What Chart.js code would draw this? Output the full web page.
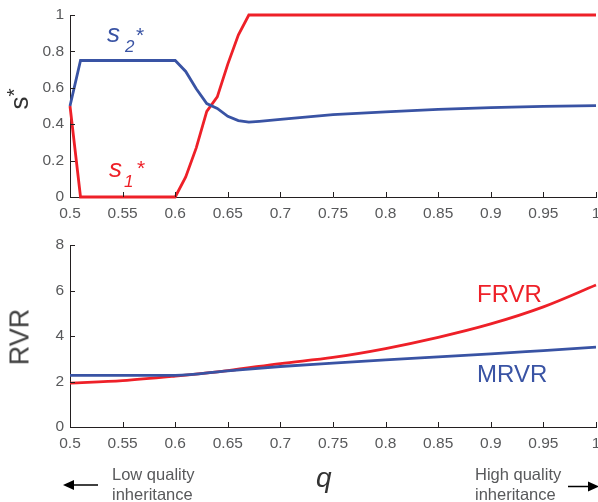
<!DOCTYPE html>
<html><head><meta charset="utf-8">
<script src="https://cdn.jsdelivr.net/npm/chart.js@4/dist/chart.umd.min.js"></script>
<style>
html,body{margin:0;padding:0;background:#fff;}
#wrap{position:relative;width:598px;height:502px;overflow:hidden;font-family:"Liberation Sans",Arial,sans-serif;}
canvas{position:absolute;left:0;}
.t{position:absolute;white-space:nowrap;line-height:1;}
.it{font-style:italic;}
</style></head><body>
<div id="wrap">
<canvas id="cTop" style="top:0" width="598" height="230"></canvas>
<canvas id="cBot" style="top:230px" width="598" height="272"></canvas>

<div class="t" style="left:19px;top:99px;font-size:26px;color:#333;transform:translate(-50%,-50%) rotate(-90deg);">s<span style="font-size:21px;position:relative;top:-7px;">*</span></div>

<div class="t it" style="left:107px;top:20px;font-size:26px;color:#3953a4;">s</div>
<div class="t it" style="left:125px;top:37.6px;font-size:17px;color:#3953a4;">2</div>
<div class="t" style="left:136px;top:23.5px;font-size:21px;color:#3953a4;">*</div>

<div class="t it" style="left:109px;top:155px;font-size:26px;color:#ee2028;">s</div>
<div class="t it" style="left:124px;top:172.6px;font-size:17px;color:#ee2028;">1</div>
<div class="t" style="left:137px;top:156.5px;font-size:21px;color:#ee2028;">*</div>

<div class="t" style="left:20px;top:337px;font-size:27px;color:#404040;transform:translate(-50%,-50%) rotate(-90deg);">RVR</div>

<div class="t" style="left:477px;top:281.7px;font-size:24px;color:#ee2028;">FRVR</div>
<div class="t" style="left:477px;top:361.7px;font-size:24px;color:#3953a4;">MRVR</div>

<div class="t it" style="left:316px;top:463.8px;font-size:28px;color:#333;">q</div>

<div class="t" style="left:112px;top:466px;font-size:16.5px;color:#58595b;">Low quality</div>
<div class="t" style="left:112px;top:485.5px;font-size:16.5px;color:#58595b;">inheritance</div>
<div class="t" style="left:475px;top:466px;font-size:16.5px;color:#58595b;">High quality</div>
<div class="t" style="left:475px;top:485.5px;font-size:16.5px;color:#58595b;">inheritance</div>
</div>
<script>
// ---- data ----
const qTop = [0.5, 0.51, 0.6, 0.61, 0.62, 0.63, 0.64, 0.65, 0.66, 0.67, 0.68, 0.7, 0.75, 0.8, 0.85, 0.9, 0.95, 1.0];
const s1Star = [0.5, 0, 0, 0.11, 0.27, 0.47, 0.55, 0.73, 0.89, 1, 1, 1, 1, 1, 1, 1, 1, 1];
const s2Star = [0.5, 0.75, 0.75, 0.69, 0.595, 0.513, 0.487, 0.443, 0.42, 0.411, 0.416, 0.426, 0.453, 0.468, 0.482, 0.491, 0.498, 0.502];

const qBot = [0.5, 0.55, 0.6, 0.65, 0.7, 0.75, 0.8, 0.85, 0.9, 0.95, 1.0];
const frvr = [1.93, 2.04, 2.24, 2.48, 2.79, 3.06, 3.45, 3.94, 4.53, 5.28, 6.24];
const mrvr = [2.27, 2.27, 2.27, 2.47, 2.66, 2.81, 2.95, 3.08, 3.21, 3.36, 3.51];

const xTickStep = 0.05;
const yTopStep = 0.2;
const yBotStep = 2;

const RED = '#ee2028', BLUE = '#3953a4', AXIS = '#231f20', TICKC = '#58595b';
const tickFont = {family: '"Liberation Sans", Arial, sans-serif', size: 15.5};

function pts(xs, ys){ return xs.map((x,i)=>({x:x, y:ys[i]})); }
function fmt(v){ return String(Number(v.toFixed(2))); }

const inTicks = {
  id: 'inTicks',
  afterDraw(chart){
    const ctx = chart.ctx, ca = chart.chartArea, xs = chart.scales.x, ys = chart.scales.y;
    ctx.save();
    ctx.strokeStyle = AXIS; ctx.lineWidth = 1;
    ctx.beginPath();
    xs.ticks.forEach(t=>{ const px = Math.round(xs.getPixelForValue(t.value)) + 0.5; ctx.moveTo(px, ca.bottom); ctx.lineTo(px, ca.bottom - 5); });
    ys.ticks.forEach(t=>{ const py = Math.round(ys.getPixelForValue(t.value)) + 0.5; ctx.moveTo(ca.left, py); ctx.lineTo(ca.left + 5, py); });
    ctx.stroke();
    ctx.restore();
  }
};

const arrows = {
  id: 'arrows',
  afterDraw(chart){
    const ctx = chart.ctx;
    ctx.save();
    ctx.strokeStyle = '#000'; ctx.fillStyle = '#000'; ctx.lineWidth = 1.5;
    ctx.beginPath(); ctx.moveTo(98, 255); ctx.lineTo(70, 255); ctx.stroke();
    ctx.beginPath(); ctx.moveTo(63, 255); ctx.lineTo(74, 250); ctx.lineTo(74, 260); ctx.closePath(); ctx.fill();
    ctx.beginPath(); ctx.moveTo(568, 256.5); ctx.lineTo(590, 256.5); ctx.stroke();
    ctx.beginPath(); ctx.moveTo(599, 256.5); ctx.lineTo(588, 251.5); ctx.lineTo(588, 261.5); ctx.closePath(); ctx.fill();
    ctx.restore();
  }
};

function makeChart(id, datasets, yMax, yStep, xScaleH, plugins){
  return new Chart(document.getElementById(id), {
    type: 'line',
    data: { datasets: datasets },
    options: {
      responsive: false, animation: false,
      layout: { padding: { top: 15, right: 2, left: 0, bottom: 0 } },
      plugins: { legend: { display: false }, tooltip: { enabled: false } },
      elements: { point: { radius: 0 } },
      scales: {
        x: {
          type: 'linear', min: 0.5, max: 1,
          ticks: { stepSize: xTickStep, callback: fmt, font: tickFont, color: TICKC, padding: 7, maxRotation: 0, autoSkip: false },
          grid: { display: false, drawTicks: false },
          border: { display: true, color: AXIS, width: 1 },
          afterFit(s){ s.height = xScaleH; s.paddingLeft = 0; s.paddingRight = 0; }
        },
        y: {
          min: 0, max: yMax,
          ticks: { stepSize: yStep, callback: fmt, font: tickFont, color: TICKC, padding: 6 },
          grid: { display: false, drawTicks: false },
          border: { display: true, color: AXIS, width: 1 },
          afterFit(s){ s.width = 70; s.paddingTop = 0; s.paddingBottom = 0; }
        }
      }
    },
    plugins: plugins
  });
}

makeChart('cTop', [
  { data: pts(qTop, s2Star), borderColor: BLUE, borderWidth: 2.8, tension: 0, fill: false, clip: 5 },
  { data: pts(qTop, s1Star), borderColor: RED, borderWidth: 2.8, tension: 0, fill: false, clip: 5 }
], 1, yTopStep, 33, [inTicks]);

makeChart('cBot', [
  { data: pts(qBot, mrvr), borderColor: BLUE, borderWidth: 2.8, cubicInterpolationMode: 'monotone', fill: false, clip: 5 },
  { data: pts(qBot, frvr), borderColor: RED, borderWidth: 2.8, cubicInterpolationMode: 'monotone', fill: false, clip: 5 }
], 8, yBotStep, 75, [inTicks, arrows]);
</script>
</body></html>
